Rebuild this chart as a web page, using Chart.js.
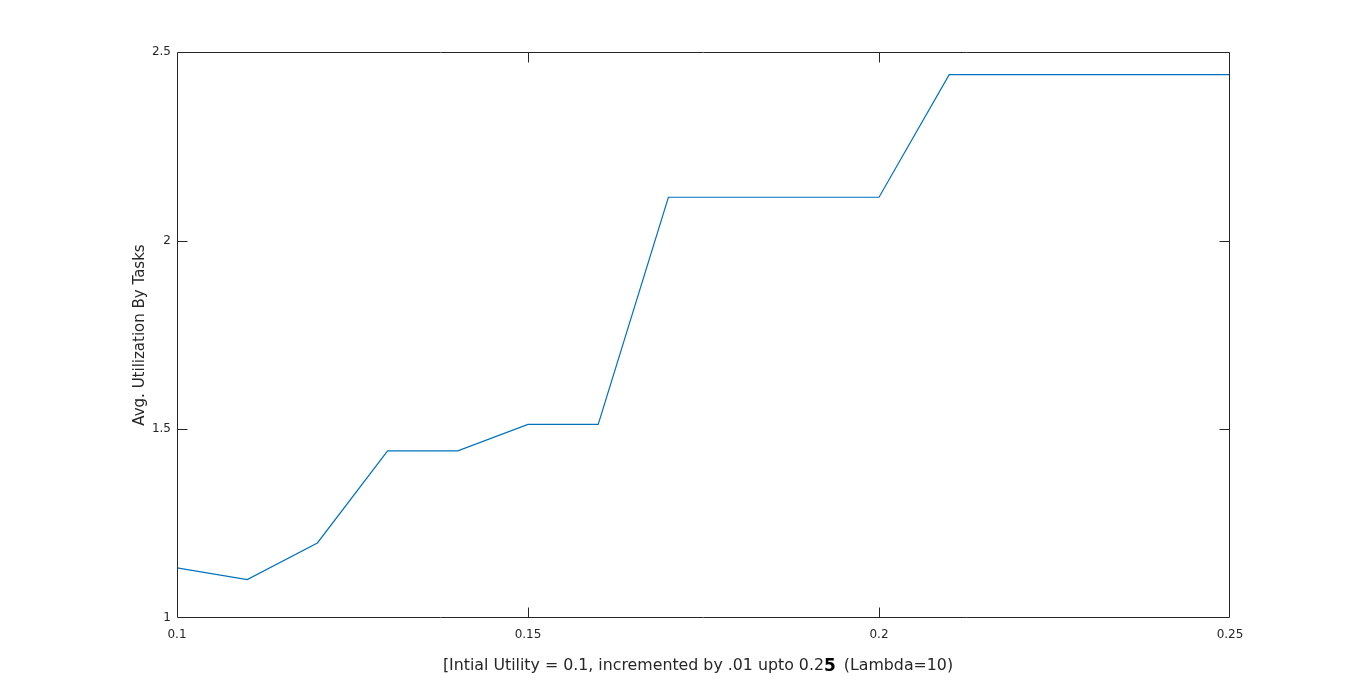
<!DOCTYPE html>
<html>
<head>
<meta charset="utf-8">
<script src="https://cdn.jsdelivr.net/npm/chart.js@4.4.0/dist/chart.umd.min.js"></script>
<style>
  html, body { margin: 0; padding: 0; background: #ffffff; }
  #wrap { width: 1360px; height: 695px; }
</style>
</head>
<body>
<div id="wrap"><canvas id="plot" width="1360" height="695"></canvas></div>
<script>
// initial utility values (x) and the avg utilization measured (y)
const utility = [0.10, 0.11, 0.12, 0.13, 0.14, 0.15, 0.16, 0.17, 0.18, 0.19, 0.20, 0.21, 0.22, 0.23, 0.24, 0.25];
const avgUtil = [1.133, 1.102, 1.199, 1.443, 1.443, 1.513, 1.513, 2.115, 2.115, 2.115, 2.115, 2.440, 2.440, 2.440, 2.440, 2.440];
const xTicks = [0.1, 0.15, 0.2, 0.25];
const yTicks = [1, 1.5, 2, 2.5];
const yTitle = "Avg. Utilization By Tasks";
const xTitleParts = ["[Intial Utility = 0.1, incremented by .01 upto 0.2", "5", " (Lambda=10)"];

const axisColor = "#262626";
const fontFam = "'DejaVu Sans', sans-serif";

// matlab style box with inward ticks on all four sides
const boxPlugin = {
  id: "boxPlugin",
  afterDraw(chart) {
    const ctx = chart.ctx;
    const a = chart.chartArea;
    const xs = chart.scales.x, ys = chart.scales.y;
    const L = Math.round(a.left) + 0.5, R = Math.round(a.right) - 0.5;
    const T = Math.round(a.top) + 0.5, B = Math.round(a.bottom) - 0.5;
    const tl = 10;
    ctx.save();
    ctx.strokeStyle = axisColor;
    ctx.lineWidth = 1;
    ctx.beginPath();
    ctx.rect(L, T, R - L, B - T);
    // skip the ticks sitting on the box corners
    xTicks.slice(1, -1).forEach(v => {
      let px = Math.round(xs.getPixelForValue(v)) + 0.5;
      ctx.moveTo(px, B); ctx.lineTo(px, B - tl);
      ctx.moveTo(px, T); ctx.lineTo(px, T + tl);
    });
    yTicks.slice(1, -1).forEach(v => {
      let py = Math.round(ys.getPixelForValue(v)) + 0.5;
      ctx.moveTo(L, py); ctx.lineTo(L + tl, py);
      ctx.moveTo(R, py); ctx.lineTo(R - tl, py);
    });
    ctx.stroke();

    // x label, the "5" in the source is bold and bigger
    const normal = "15.8px " + fontFam;
    const bold = "bold 17px " + fontFam;
    ctx.fillStyle = axisColor;
    ctx.textBaseline = "alphabetic";
    ctx.textAlign = "left";
    ctx.font = normal;
    let w0 = ctx.measureText(xTitleParts[0]).width;
    let w2 = ctx.measureText(xTitleParts[2]).width;
    ctx.font = bold;
    let w1 = ctx.measureText(xTitleParts[1]).width;
    let x = (a.left + a.right) / 2 - 7 - (w0 + w1 + w2) / 2;
    const y = 670;
    ctx.font = normal;
    ctx.fillText(xTitleParts[0], x, y);
    ctx.font = bold;
    ctx.fillStyle = "#000000";
    ctx.fillText(xTitleParts[1], x + w0, y + 1);
    ctx.font = normal;
    ctx.fillStyle = axisColor;
    ctx.fillText(xTitleParts[2], x + w0 + w1 + 3, y);
    ctx.restore();
  }
};

new Chart(document.getElementById("plot"), {
  type: "line",
  plugins: [boxPlugin],
  data: {
    datasets: [{
      data: utility.map((u, i) => ({ x: u, y: avgUtil[i] })),
      borderColor: "#0072BD",
      borderWidth: 1.2,
      pointRadius: 0,
      tension: 0,
      fill: false
    }]
  },
  options: {
    responsive: false,
    animation: false,
    layout: { padding: { left: 127, right: 130, top: 52, bottom: 19 } },
    plugins: { legend: { display: false }, tooltip: { enabled: false } },
    scales: {
      x: {
        type: "linear",
        min: 0.1,
        max: 0.25,
        grid: { display: false, drawTicks: false },
        border: { display: false },
        afterBuildTicks: s => { s.ticks = xTicks.map(v => ({ value: v })); },
        afterFit: s => { s.height = 58; },
        ticks: {
          padding: 10,
          color: axisColor,
          font: { family: fontFam, size: 12 },
          maxRotation: 0,
          callback: v => String(+v.toFixed(2))
        }
      },
      y: {
        type: "linear",
        min: 1,
        max: 2.5,
        grid: { display: false, drawTicks: false },
        border: { display: false },
        afterBuildTicks: s => { s.ticks = yTicks.map(v => ({ value: v })); },
        afterFit: s => { s.width = 50; },
        title: {
          display: true,
          text: yTitle,
          color: axisColor,
          font: { family: fontFam, size: 15 }
        },
        ticks: {
          padding: 6,
          color: axisColor,
          font: { family: fontFam, size: 12 },
          callback: v => String(+v.toFixed(2))
        }
      }
    }
  }
});
</script>
</body>
</html>
